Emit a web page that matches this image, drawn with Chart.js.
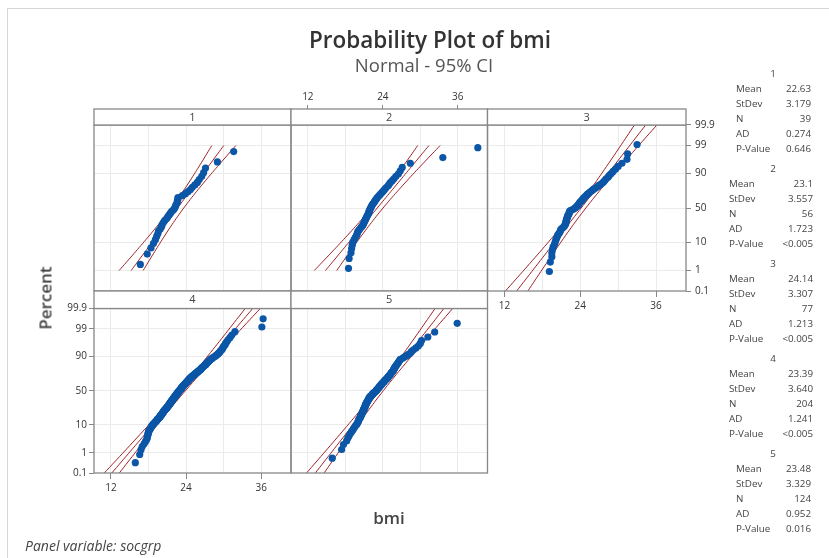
<!DOCTYPE html>
<html><head><meta charset="utf-8">
<script src="https://cdn.jsdelivr.net/npm/chart.js@4.4.1/dist/chart.umd.min.js"></script>
<style>
html,body{margin:0;padding:0;background:#fff;}
#wrap{position:relative;width:829px;height:558px;overflow:hidden;font-family:"Open Sans",sans-serif;background:#fff;}
canvas{position:absolute;left:0;top:0;}
.t{position:absolute;white-space:nowrap;color:#333;line-height:1;}
.c{transform:translate(-50%,-50%);}
.lm{transform:translate(0,-50%);}
.rm{transform:translate(-100%,-50%);}
#frame{position:absolute;left:7px;top:8px;width:900px;height:700px;border:1px solid #d6d6d6;}
.st{font-size:9.8px;color:#444;}
</style></head><body><div id="wrap"><div id="frame"></div></div>
<script>
// ---------------- data ----------------
const groups = ['1','2','3','4','5'];
const meanLabels = ['22.63','23.1','24.14','23.39','23.48'];
const sdLabels = ['3.179','3.557','3.307','3.640','3.329'];
const nLabels = ['39','56','77','204','124'];
const adLabels = ['0.274','1.723','1.213','1.241','0.952'];
const pLabels = ['0.646','<0.005','<0.005','<0.005','0.016'];

const bmi1 = [16.7,17.8,18.4,18.8,19.1,19.3,19.5,19.6,19.9,20.1,20.2,20.4,20.6,20.9,21.1,21.3,21.5,21.7,22.0,22.2,22.3,22.4,22.6,22.6,22.7,22.7,23.4,23.9,24.3,24.7,25.0,25.4,25.8,26.1,26.5,26.8,27.1,29.0,31.6];
const bmi2 = [18.5,18.6,18.9,19.0,19.1,19.2,19.4,19.6,19.8,19.9,20.0,20.2,20.4,20.6,20.8,20.9,21.0,21.1,21.2,21.3,21.4,21.5,21.6,21.7,21.8,21.8,21.9,22.0,22.1,22.2,22.3,22.4,22.6,22.7,22.8,23.0,23.1,23.3,23.5,23.7,23.9,24.1,24.3,24.5,24.8,25.0,25.2,25.5,25.8,26.1,26.5,26.8,27.1,28.4,33.6,39.2];
const bmi3 = [19.1,19.25,19.5,19.5,19.6,19.7,19.9,20.0,20.1,20.2,20.3,20.4,20.5,20.7,20.8,20.9,20.95,21.2,21.4,21.5,21.6,21.7,21.7,21.75,21.8,21.8,21.9,21.9,22.0,22.0,22.1,22.2,22.2,22.3,22.3,22.4,22.7,23.0,23.2,23.3,23.5,23.6,23.7,23.8,23.9,24.0,24.2,24.3,24.4,24.5,24.7,24.8,25.0,25.1,25.3,25.5,25.7,25.9,26.1,26.4,26.7,26.9,27.2,27.5,27.7,27.9,28.1,28.4,28.6,28.9,29.2,29.6,30.0,30.6,31.4,31.5,33.0];
const bmi4 = [15.9,16.6,16.8,17.0,17.3,17.5,17.7,17.8,17.8,17.9,17.9,18.0,18.0,18.1,18.2,
18.3,18.4,18.4,18.5,18.6, 18.7,18.8,18.9,19.0,19.1, 19.2,19.3,19.4,19.4,19.5, 19.6,19.7,19.8,19.8,19.9,
19.9,20.0,20.1,20.1,20.2, 20.2,20.3,20.3,20.4,20.4, 20.5,20.5,20.6,20.6,20.7, 20.8,20.8,20.9,20.9,21.0,
21.0,21.1,21.1,21.2,21.2, 21.3,21.3,21.3,21.4,21.4, 21.5,21.5,21.5,21.6,21.6, 21.7,21.7,21.7,21.8,21.8,
21.9,21.9,21.9,22.0,22.0, 22.1,22.1,22.1,22.2,22.2, 22.3,22.3,22.3,22.4,22.4, 22.5,22.5,22.5,22.6,22.6,
22.7,22.7,22.7,22.8,22.8, 22.9,22.9,23.0,23.0,23.0, 23.1,23.1,23.2,23.2,23.2, 23.3,23.3,23.4,23.4,23.4,
23.5,23.5,23.6,23.6,23.7, 23.7,23.8,23.8,23.9,23.9, 24.0,24.0,24.1,24.1,24.2, 24.2,24.3,24.3,24.4,24.4,
24.5,24.5,24.6,24.6,24.7, 24.8,24.8,24.9,24.9,25.0, 25.1,25.2,25.2,25.3,25.4, 25.5,25.5,25.6,25.7,25.8,
25.9,25.9,26.0,26.1,26.2, 26.3,26.3,26.4,26.5,26.5, 26.6,26.7,26.8,26.9,27.0, 27.1,27.2,27.2,27.3,27.4,
27.5,27.6,27.7,27.8,27.9, 28.0,28.2,28.3,28.5,28.7, 28.8,29.0,29.1,29.3,29.4, 29.5,29.7,29.8,29.9,30.0,
30.2,30.3,30.5,30.7,31.0, 31.3,31.8,36.1,36.3];
const bmi5 = [15.9,17.4,17.7,18.2,18.4,18.6,18.8,19.0,19.2,19.3,19.5,19.6,19.8,19.9,20.0,
20.1,20.1,20.2,20.3,20.4, 20.4,20.5,20.6,20.6,20.7, 20.7,20.8,20.8,20.9,20.9, 21.0,21.0,21.1,21.1,21.2,
21.2,21.2,21.3,21.3,21.4, 21.4,21.5,21.5,21.6,21.6, 21.7,21.7,21.8,21.8,21.9, 21.9,22.0,22.1,22.2,22.3,
22.3,22.4,22.5,22.6,22.7, 22.8,22.9,23.0,23.0,23.1, 23.2,23.3,23.3,23.4,23.5, 23.5,23.6,23.7,23.8,23.8,
23.9,24.0,24.1,24.2,24.2, 24.3,24.4,24.5,24.6,24.7, 24.8,24.8,24.9,25.0,25.1, 25.2,25.3,25.3,25.4,25.5,
25.6,25.7,25.7,25.8,25.9, 25.9,26.0,26.1,26.2,26.3, 26.4,26.5,26.6,26.7,26.8, 27.2,27.5,27.8,28.1,28.4,
28.6,28.9,29.3,29.7,30.0, 30.2,31.2,32.3,35.9];

const percentTicks = [0.1,1,10,50,90,99,99.9];
const percentTickLabels = ['0.1','1','10','50','90','99','99.9'];
const xTicks = [12,18,24,30,36];
const xTickLabels = ['12','','24','','36'];
const fitRangePct = [[1,99],[1,99],[0.1,99.9],[0.1,99.9],[0.1,99.9]];

// ---------------- helpers ----------------
function invNorm(p){
  const a=[-3.969683028665376e+01,2.209460984245205e+02,-2.759285104469687e+02,1.383577518672690e+02,-3.066479806614716e+01,2.506628277459239e+00];
  const b=[-5.447609879822406e+01,1.615858368580409e+02,-1.556989798598866e+02,6.680131188771972e+01,-1.328068155288572e+01];
  const c=[-7.784894002430293e-03,-3.223964580411365e-01,-2.400758277161838e+00,-2.549732539343734e+00,4.374664141464968e+00,2.938163982698783e+00];
  const d=[7.784695709041462e-03,3.224671290700398e-01,2.445134137142996e+00,3.754408661907416e+00];
  const pl=0.02425, ph=1-pl; let q,r;
  if(p<pl){q=Math.sqrt(-2*Math.log(p));return (((((c[0]*q+c[1])*q+c[2])*q+c[3])*q+c[4])*q+c[5])/((((d[0]*q+d[1])*q+d[2])*q+d[3])*q+1);}
  if(p<=ph){q=p-0.5;r=q*q;return (((((a[0]*r+a[1])*r+a[2])*r+a[3])*r+a[4])*r+a[5])*q/(((((b[0]*r+b[1])*r+b[2])*r+b[3])*r+b[4])*r+1);}
  q=Math.sqrt(-2*Math.log(1-p));return -(((((c[0]*q+c[1])*q+c[2])*q+c[3])*q+c[4])*q+c[5])/((((d[0]*q+d[1])*q+d[2])*q+d[3])*q+1);
}

const W=829, H=558;
const wrap=document.getElementById('wrap');
function addText(txt, x, y, cls, style){
  const d=document.createElement('div');
  d.className='t '+cls; d.textContent=txt;
  d.style.left=x+'px'; d.style.top=y+'px';
  if(style) Object.assign(d.style, style);
  wrap.appendChild(d); return d;
}

// panel geometry
const panels = [
  {l:94,   r:291,   t:125,   b:291, strip:109, ax:{}},
  {l:291,  r:487.5, t:125,   b:291, strip:109, ax:{top:true}},
  {l:487.5,r:686,   t:125,   b:291, strip:109, ax:{bottom:true,right:true}},
  {l:94,   r:291,   t:308.5, b:473, strip:291, ax:{left:true,bottom:true}},
  {l:291,  r:487.5, t:308.5, b:473, strip:291, ax:{}}
];
const bmiData=[bmi1,bmi2,bmi3,bmi4,bmi5];
const zMin=invNorm(0.001), zMax=invNorm(0.999);
const gridColor='#ebebeb', axisColor='#878787', ptColor='#0b56a6', ciColor='#9e2228';
const tickFont={size:10,family:'"Open Sans", sans-serif'};

const deco = {
  id:'deco',
  afterDraw(chart, args, opts){
    const {ctx, chartArea:a}=chart;
    ctx.save();
    ctx.strokeStyle=axisColor; ctx.lineWidth=1.3;
    ctx.strokeRect(a.left, a.top, a.right-a.left, a.bottom-a.top);
    const st=opts.strip;
    ctx.fillStyle='#fff'; ctx.fillRect(a.left, st, a.right-a.left, a.top-st);
    ctx.strokeRect(a.left, st, a.right-a.left, a.top-st);
    ctx.fillStyle='#444'; ctx.font='11px "Open Sans", sans-serif';
    ctx.textAlign='center'; ctx.textBaseline='middle';
    ctx.fillText(opts.label, (a.left+a.right)/2, (st+a.top)/2+0.5);
    ctx.restore();
  }
};

panels.forEach((P,k)=>{
  const cv=document.createElement('canvas');
  cv.width=W; cv.height=H; cv.style.width=W+'px'; cv.style.height=H+'px';
  wrap.appendChild(cv);
  const ax=P.ax;
  const mean=parseFloat(meanLabels[k]), sd=parseFloat(sdLabels[k]), n=parseInt(nLabels[k]);
  const pts=bmiData[k].map((v,i)=>({x:v,y:invNorm((i+1-0.3)/(n+0.4))}));
  const z0=invNorm(fitRangePct[k][0]/100), z1=invNorm(fitRangePct[k][1]/100);
  const fit=[],lo=[],hi=[];
  for(let j=0;j<=60;j++){
    const z=z0+(z1-z0)*j/60, x=mean+z*sd, h=1.96*sd*Math.sqrt(1/n+z*z/(2*n));
    fit.push({x:x,y:z}); lo.push({x:x-h,y:z}); hi.push({x:x+h,y:z});
  }
  const showX=!!(ax.top||ax.bottom), showY=!!(ax.left||ax.right);
  const topH=ax.top?36:0, botH=ax.bottom?28:0, leftW=ax.left?36:0, rightW=ax.right?40:0;
  const lineDs=(d)=>({type:'scatter',data:d,showLine:true,borderColor:ciColor,borderWidth:1,pointRadius:0,tension:0,order:2});
  new Chart(cv,{
    type:'scatter',
    data:{datasets:[
      {data:pts,pointRadius:3.6,pointBackgroundColor:ptColor,pointBorderWidth:0,order:0},
      lineDs(lo),lineDs(fit),lineDs(hi)
    ]},
    options:{
      responsive:false, animation:false, devicePixelRatio:1, events:[],
      layout:{padding:{left:P.l-leftW, right:W-P.r-rightW, top:P.t-topH, bottom:H-P.b-botH}},
      plugins:{legend:{display:false},tooltip:{enabled:false},deco:{strip:P.strip,label:groups[k]}},
      scales:{
        x:{type:'linear',position:ax.top?'top':'bottom',min:9.3,max:40.75,
          afterBuildTicks:s=>{s.ticks=xTicks.map(v=>({value:v}));},
          ticks:{display:showX,autoSkip:false,maxRotation:0,padding:ax.top?2:3,color:'#333',font:tickFont,
                 callback:(v,i)=>xTickLabels[i]},
          grid:{color:gridColor,lineWidth:1,drawTicks:showX,tickLength:ax.top?20:6,tickWidth:1,
                tickColor:c=>xTickLabels[c.index]?axisColor:'rgba(0,0,0,0)'},
          border:{display:false},
          afterFit:s=>{s.height=ax.top?topH:botH;}
        },
        y:{type:'linear',position:ax.right?'right':'left',min:zMin,max:zMax,
          afterBuildTicks:s=>{s.ticks=percentTicks.map(p=>({value:invNorm(p/100)}));},
          ticks:{display:showY,autoSkip:false,padding:ax.right?4:2,color:'#333',font:tickFont,
                 callback:(v,i)=>percentTickLabels[i]},
          grid:{color:c=>(c.index===0||c.index===percentTicks.length-1)?'rgba(0,0,0,0)':gridColor,
                lineWidth:1,drawTicks:showY,tickLength:5,tickWidth:1,tickColor:axisColor},
          border:{display:false},
          afterFit:s=>{s.width=ax.left?leftW:rightW;}
        }
      }
    },
    plugins:[deco]
  });
});

// ---------------- text ----------------
addText('Probability Plot of bmi', 430, 40, 'c', {fontSize:'22.5px',fontWeight:'600',color:'#333'});
addText('Normal - 95% CI', 424, 65, 'c', {fontSize:'18.5px',color:'#555'});
addText('Percent', 45, 298, '', {fontSize:'17px',fontWeight:'600',color:'#444',transform:'translate(-50%,-50%) rotate(-90deg)'});
addText('bmi', 389, 517, 'c', {fontSize:'17px',fontWeight:'600',color:'#444'});
addText('Panel variable: socgrp', 25, 546, 'lm', {fontSize:'14px',fontStyle:'italic',color:'#444'});

const tblTop=[74,169,264,359,454];
const tblLabelX=[736,729,729,729,736];
const tblValX=[811,813,813,813,811];
const rowNames=['Mean','StDev','N','AD','P-Value'];
groups.forEach((g,k)=>{
  addText(g, 773, tblTop[k], 'c st');
  const vals=[meanLabels[k],sdLabels[k],nLabels[k],adLabels[k],pLabels[k]];
  rowNames.forEach((rn,j)=>{
    const y=tblTop[k]+15*(j+1);
    addText(rn, tblLabelX[k], y, 'lm st');
    addText(vals[j], tblValX[k], y, 'rm st');
  });
});
</script>
</body></html>
